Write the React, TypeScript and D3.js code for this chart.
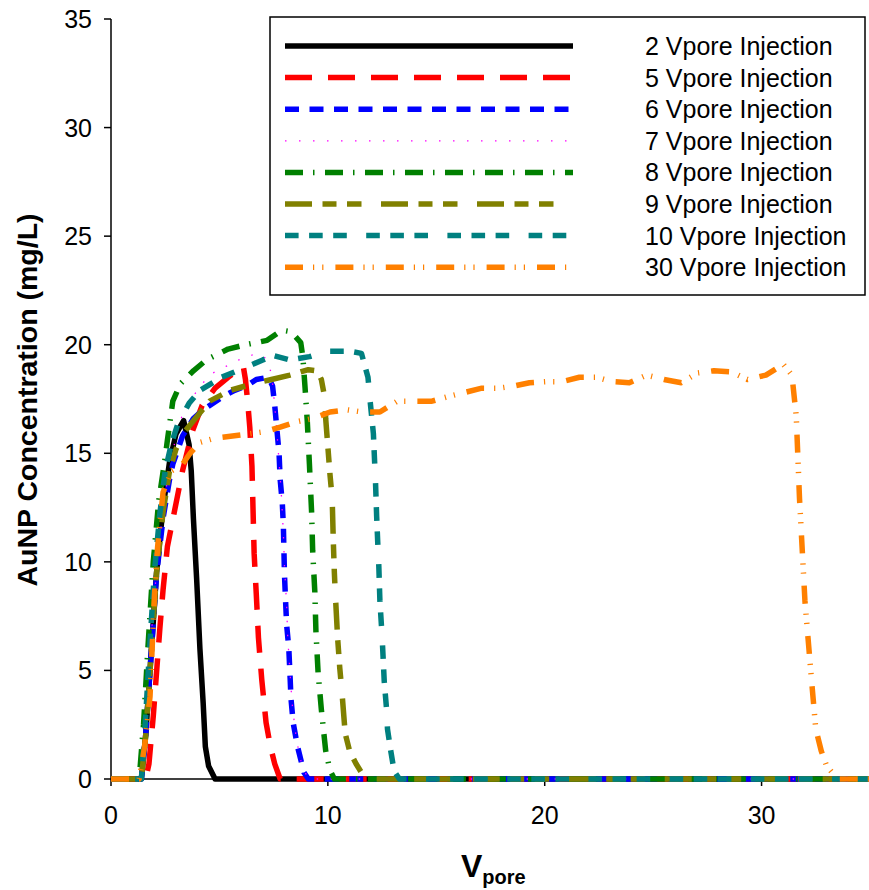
import React from "react";
import * as d3 from "d3";

type Pt = [number, number];

const seriesNames = [
  "2 Vpore Injection",
  "5 Vpore Injection",
  "6 Vpore Injection",
  "7 Vpore Injection",
  "8 Vpore Injection",
  "9 Vpore Injection",
  "10 Vpore Injection",
  "30 Vpore Injection",
];

const v2: Pt[] = [[0,0],[1.4,0],[1.6,2],[1.8,5],[2.1,9.5],[2.4,12.5],[2.7,14.6],[3.0,15.9],[3.35,16.5],[3.6,15.4],[3.7,14.2],[3.8,12],[3.95,9.2],[4.1,6],[4.25,3.5],[4.35,1.5],[4.5,0.6],[4.8,0],[35,0]];
const v5: Pt[] = [[0,0],[1.6,0],[1.75,0.7],[1.95,2.9],[2.1,4.9],[2.25,6.9],[2.4,8.7],[2.6,10.7],[3.0,12.7],[3.3,14.2],[3.5,15],[3.75,16],[4.2,17.2],[4.8,18.0],[5.4,18.5],[5.85,18.85],[6.1,19.0],[6.2,18.4],[6.3,17.4],[6.4,16.2],[6.5,14.4],[6.55,12.4],[6.6,10.4],[6.7,8.5],[6.8,6.5],[6.95,4.6],[7.15,2.6],[7.35,1.5],[7.55,0.7],[7.8,0],[35,0]];
const v6: Pt[] = [[0,0],[1.4,0],[1.6,2],[1.8,5],[2.1,9.4],[2.4,12],[2.7,13.8],[2.85,14.5],[3.3,15.8],[3.8,16.6],[4.25,17.0],[5.15,17.6],[5.7,17.9],[6.25,18.1],[6.7,18.4],[7.25,18.5],[7.45,18.1],[7.55,17.2],[7.65,16.1],[7.75,15.0],[7.8,13.8],[7.9,12.7],[7.95,11.6],[8.0,9.4],[8.05,8.2],[8.1,7.1],[8.2,6.0],[8.25,4.9],[8.3,3.7],[8.4,2.6],[8.6,1.5],[8.9,0.3],[9.1,0],[35,0]];
const v7: Pt[] = [[0,0],[1.3,0],[1.5,2],[1.7,4.5],[2.0,8.5],[2.3,11.5],[2.6,13.8],[3.0,15.8],[3.3,16.8],[3.7,17.5],[4.2,18.2],[4.7,18.7],[5.3,19.0],[5.9,19.3],[6.7,19.6],[7.1,19.4],[7.4,18.7],[7.55,17.2],[7.65,16.0],[7.75,14.6],[7.85,13.2],[7.95,11.3],[8.0,9.8],[8.1,8.0],[8.15,6.5],[8.25,5.0],[8.35,3.5],[8.5,2.2],[8.7,1.0],[9.0,0.2],[9.2,0],[35,0]];
const v8: Pt[] = [[0,0],[1.3,0],[1.5,2.5],[1.7,6],[1.95,10],[2.2,12.8],[2.5,14.8],[2.6,15.6],[2.85,17.4],[3.2,18.2],[3.8,18.8],[4.4,19.3],[5.4,19.8],[6.2,20.0],[7.2,20.2],[7.7,20.55],[8.0,20.65],[8.3,20.6],[8.75,20.1],[8.85,19.4],[8.95,18.0],[9.05,16.5],[9.15,14.5],[9.25,12.3],[9.3,10.5],[9.4,8.6],[9.45,6.8],[9.55,4.9],[9.7,3.2],[9.9,1.3],[10.1,0.4],[10.3,0],[35,0]];
const v9: Pt[] = [[0,0],[1.4,0],[1.6,2],[1.8,5],[2.1,9.5],[2.4,12.3],[2.7,14.2],[3.0,15.2],[3.4,16.0],[3.8,16.5],[4.55,17.4],[5.5,17.9],[6.55,18.2],[7.4,18.4],[8.25,18.6],[9.1,18.85],[9.5,18.8],[9.7,18.4],[9.85,17.6],[9.9,16.6],[10.0,15.3],[10.1,14.0],[10.2,12.9],[10.25,11.0],[10.3,9.5],[10.35,8.4],[10.45,6.5],[10.55,5.1],[10.65,4.0],[10.8,2.1],[11.0,1.3],[11.3,0.7],[11.55,0.3],[11.8,0],[35,0]];
const v10: Pt[] = [[0,0],[1.4,0],[1.55,2],[1.75,5.5],[2.0,9.5],[2.25,12.2],[2.5,14.2],[2.8,15.5],[3.1,16.4],[3.6,17.3],[4.1,17.9],[5.1,18.5],[6.3,19.0],[7.0,19.3],[7.5,19.5],[8.25,19.3],[8.85,19.4],[9.15,19.45],[10.0,19.7],[11.0,19.7],[11.55,19.6],[11.85,18.5],[11.95,17.4],[12.1,15.9],[12.2,13.6],[12.25,12.1],[12.3,10.9],[12.35,9.8],[12.4,8.2],[12.5,6.6],[12.6,4.5],[12.7,3.3],[12.75,2.3],[12.9,1.3],[13.0,0.7],[13.1,0.3],[13.3,0],[35,0]];
const v30: Pt[] = [[0,0],[1.3,0],[1.55,1.5],[1.8,3.8],[1.9,6.1],[2.0,8.4],[2.15,10.7],[2.4,13.2],[2.8,14.2],[3.3,14.5],[3.65,15.0],[4.1,15.5],[4.8,15.7],[5.6,15.8],[6.4,15.9],[7.1,16.0],[7.8,16.2],[8.55,16.45],[9.3,16.6],[10.1,16.9],[10.9,17.0],[11.6,16.9],[12.4,16.9],[13.2,17.4],[14.0,17.4],[14.8,17.4],[15.5,17.6],[16.3,17.8],[17.1,18.0],[17.9,18.0],[18.6,18.1],[19.3,18.25],[20.1,18.3],[20.8,18.3],[21.6,18.5],[22.4,18.5],[23.1,18.3],[23.9,18.25],[24.7,18.6],[25.5,18.4],[26.3,18.25],[27.05,18.7],[27.8,18.8],[28.6,18.75],[29.35,18.4],[30.2,18.6],[31.0,19.1],[31.4,18.6],[31.6,16.7],[31.75,12.9],[32.0,8.2],[32.3,4.6],[32.5,2.3],[32.75,1.3],[33.0,0.6],[33.5,0],[35,0]];

const seriesData: Pt[][] = [v2, v5, v6, v7, v8, v9, v10, v30];

const colors = ["#000000", "#FF0000", "#0000FF", "#FF00FF", "#008000", "#808000", "#008080", "#FF8000"];
const dashes = ["", "27,16", "14,10.5", "1.5,12.5", "18,10,1.5,10.5", "27,10.5,14,10.5,14.5,19.5", "13.6,10.5,13.6,10.5,13.6,19.4", "18,10,1.2,8,1.2,12"];
const widths = [5.5, 5.5, 5.5, 1.3, 5.5, 5.5, 5.5, 5.5];

const xTicks = [0, 10, 20, 30];
const yTicks = [0, 5, 10, 15, 20, 25, 30, 35];

export default function App() {
  const W = 869, H = 890;
  const x = d3.scaleLinear().domain([0, 35]).range([111, 870]);
  const y = d3.scaleLinear().domain([0, 35]).range([779, 19]);
  const line = d3.line<Pt>().x(d => x(d[0])).y(d => y(d[1]));
  const font = "Arial, 'Liberation Sans', sans-serif";
  const legX0 = 285, legX1 = 573;
  const legY = (i: number) => 46 + i * 31.6;

  return (
    <svg width={W} height={H} style={{ position: "absolute", left: 0, top: 0, display: "block", background: "#fff" }} fontFamily={font}>
      <rect x={0} y={0} width={W} height={H} fill="#fff" />
      <line x1={111} x2={111} y1={19} y2={779} stroke="#000" strokeWidth={1.5} />
      <line x1={111} x2={870} y1={779} y2={779} stroke="#000" strokeWidth={1.5} />
      {yTicks.map(t => (
        <g key={"yt" + t}>
          <line x1={104} x2={111} y1={y(t)} y2={y(t)} stroke="#000" strokeWidth={1.5} />
          <text x={92} y={y(t) + 9} textAnchor="end" fontSize={25}>{t}</text>
        </g>
      ))}
      {xTicks.map(t => (
        <g key={"xt" + t}>
          <line x1={x(t)} x2={x(t)} y1={779} y2={786} stroke="#000" strokeWidth={1.5} />
          <text x={x(t)} y={824} textAnchor="middle" fontSize={25}>{t}</text>
        </g>
      ))}
      {seriesData.map((d, i) => (
        <path key={"s" + i} d={line(d) || ""} fill="none" stroke={colors[i]} strokeWidth={widths[i]}
          strokeDasharray={dashes[i] || undefined} strokeLinejoin="round" />
      ))}
      <text transform="translate(37,400) rotate(-90)" textAnchor="middle" fontSize={28.5} fontWeight="bold">AuNP Concentration (mg/L)</text>
      <text x={461} y={877} fontSize={32} fontWeight="bold">V<tspan fontSize={20} dy={7}>pore</tspan></text>
      <rect x={270} y={17} width={595} height={278} fill="#fff" stroke="#000" strokeWidth={1.5} />
      {seriesNames.map((n, i) => (
        <g key={"l" + i}>
          <line x1={legX0} x2={legX1} y1={legY(i)} y2={legY(i)} stroke={colors[i]} strokeWidth={i === 3 ? 1.3 : 5.5}
            strokeDasharray={dashes[i] || undefined} />
          <text x={645} y={legY(i) + 9} fontSize={25}>{n}</text>
        </g>
      ))}
    </svg>
  );
}
